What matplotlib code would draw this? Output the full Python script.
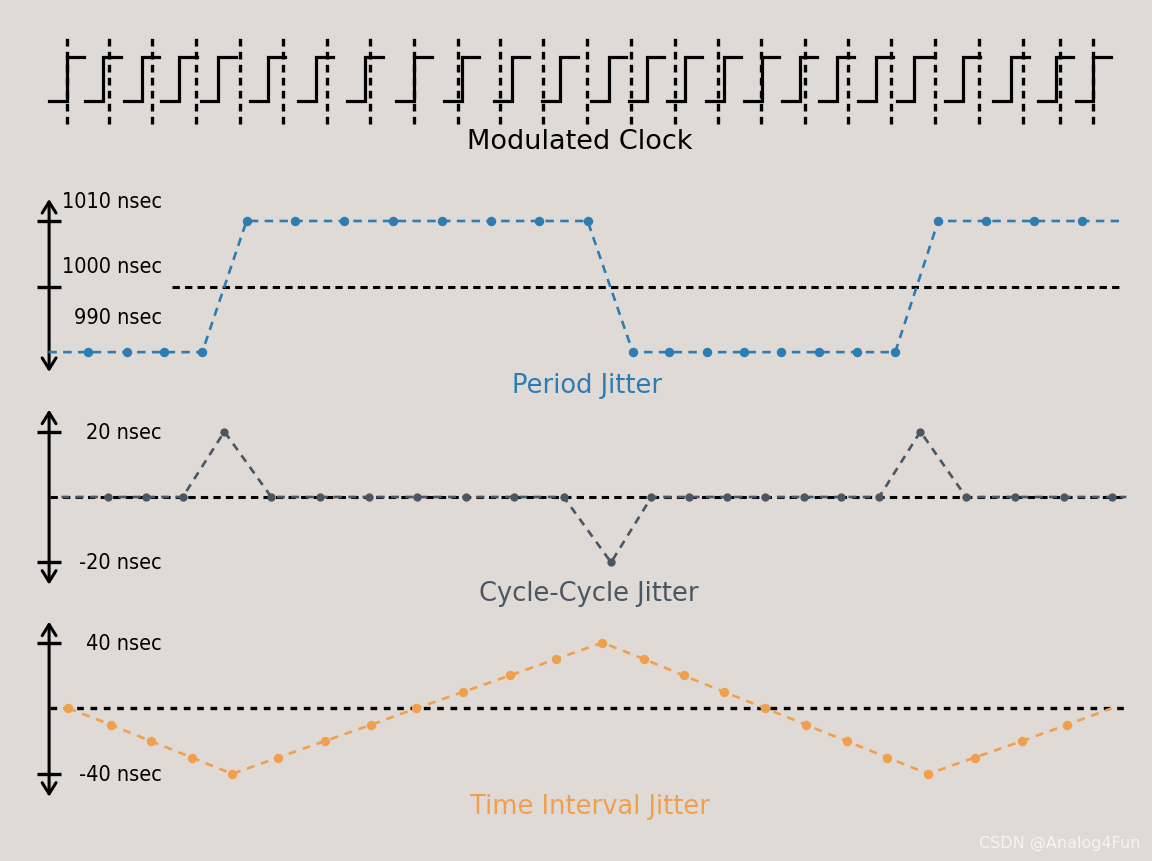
"""Clock jitter diagram: modulated clock, period / cycle-cycle / time interval jitter."""

import matplotlib

matplotlib.use("Agg")
import matplotlib.pyplot as plt
from matplotlib import font_manager

# x axis is shared by every row, in units of the ideal clock period
IDEAL_EDGES = [0, 0.98, 1.97, 2.97, 3.99, 4.99, 5.98, 6.98, 7.99, 9.0, 9.98, 10.97,
               11.97, 12.99, 13.99, 14.98, 15.98, 17.0, 17.99, 18.98, 19.99, 21.0,
               22.0, 22.87, 23.62]
CLOCK_EDGES = [0.0, 0.84, 1.73, 2.59, 3.49, 4.63, 5.74, 6.87, 8.0, 9.09, 10.24, 11.36,
               12.48, 13.35, 14.23, 15.12, 16.0, 16.88, 17.73, 18.63, 19.51, 20.62,
               21.74, 22.76, 23.63]

# period jitter (nsec)
PERIOD_T = [0.5, 1.38, 2.25, 3.12, 4.14, 5.26, 6.38, 7.52, 8.63, 9.76, 10.88, 11.99,
            13.03, 13.87, 14.73, 15.59, 16.45, 17.32, 18.19, 19.07, 20.06, 21.16, 22.27, 23.37]
PERIOD_NS = [990, 990, 990, 990, 1010, 1010, 1010, 1010, 1010, 1010, 1010, 1010,
             990, 990, 990, 990, 990, 990, 990, 990, 1010, 1010, 1010, 1010]
PERIOD_ENDS_T = [-0.42, 24.22]
PERIOD_ENDS_NS = [990, 1010]

# cycle-cycle jitter (nsec)
C2C_T = [0.95, 1.83, 2.67, 3.63, 4.71, 5.82, 6.95, 8.06, 9.19, 10.3, 11.44, 12.53,
         13.46, 14.32, 15.19, 16.07, 16.96, 17.82, 18.7, 19.65, 20.7, 21.83, 22.95, 24.07]
C2C_NS = [0, 0, 0, 20, 0, 0, 0, 0, 0, 0, 0, -20,
          0, 0, 0, 0, 0, 0, 0, 20, 0, 0, 0, 0]
C2C_ENDS_T = [-0.12, 24.39]
C2C_ENDS_NS = [0, 0]

# time interval jitter (nsec)
TIE_T = [0.04, 1.01, 1.94, 2.88, 3.81, 4.87, 5.94, 7.01, 8.05, 9.13, 10.2, 11.26,
         12.33, 13.29, 14.2, 15.13, 16.08, 17.01, 17.95, 18.89, 19.83, 20.9, 21.98, 23.03]
TIE_NS = [0, -10, -20, -30, -40, -30, -20, -10, 0, 10, 20, 30,
          40, 30, 20, 10, 0, -10, -20, -30, -40, -30, -20, -10]
TIE_ENDS_T = [24.05]
TIE_ENDS_NS = [0]

PERIOD_TICKS = [1010, 1000]
PERIOD_LABELS = ["1010 nsec", "1000 nsec", "990 nsec"]
PERIOD_LABEL_Y = [1013.0, 1003.1, 995.4]
C2C_TICKS = [20, -20]
C2C_LABELS = ["20 nsec", "-20 nsec"]
TIE_TICKS = [40, -40]
TIE_LABELS = ["40 nsec", "-40 nsec"]

BG = "#e0dad7"
BLUE = "#2e7db2"
SLATE = "#4a5661"
ORANGE = "#f0a04c"

W, H = 1152, 862
XLIM = (-1.535, 24.98)
AXIS_X = -0.405
TICK_X = (-0.69, -0.13)
LABEL_X = 2.19


def pick_label_font():
    # the reference uses a narrow grotesque; take a condensed face if one is installed
    entries = font_manager.fontManager.ttflist
    names = {f.name for f in entries}
    if "Liberation Sans Narrow" in names:
        return dict(family="Liberation Sans Narrow", fontsize=16.5)
    for pref in ["DejaVu Sans", "Roboto", "Open Sans", "Noto Sans"]:
        for f in entries:
            if f.name == pref and "condensed" in str(f.stretch) and f.weight in (400, "normal"):
                return dict(family=pref, fontstretch=f.stretch, fontsize=15.5)
    return dict(family="Liberation Sans", fontsize=15)


LABEL_FONT = pick_label_font()


def make_axes(fig, top_px, bottom_px, ylim):
    ax = fig.add_axes([0, 1 - bottom_px / H, 1, (bottom_px - top_px) / H])
    ax.set_xlim(*XLIM)
    ax.set_ylim(*ylim)
    ax.axis("off")
    ax.patch.set_alpha(0)
    return ax


def draw_axis(ax, y_lo, y_hi, ticks):
    ax.annotate("", xy=(AXIS_X, y_hi), xytext=(AXIS_X, y_lo),
                arrowprops=dict(arrowstyle="<->,head_length=0.4,head_width=0.25",
                                lw=2.2, color="black", shrinkA=0, shrinkB=0,
                                mutation_scale=20))
    ax.hlines(ticks, TICK_X[0], TICK_X[1], color="black", lw=2.4)


def draw_series(ax, t, v, ends_t, ends_v, color, ms, dashes):
    pts = sorted(zip(list(t) + list(ends_t), list(v) + list(ends_v)))
    ax.plot([p[0] for p in pts], [p[1] for p in pts], color=color, lw=1.9,
            dashes=dashes, zorder=3)
    ax.plot(t, v, "o", color=color, ms=ms, mec="none", zorder=4)


def add_labels(ax, labels, ys):
    for lab, y in zip(labels, ys):
        ax.text(LABEL_X, y, lab, ha="right", va="center", color="black", **LABEL_FONT)


def main():
    fig = plt.figure(figsize=(W / 100, H / 100), dpi=100, facecolor=BG)

    # modulated clock
    ax = make_axes(fig, 30, 130, (-0.652, 1.652))
    ax.vlines(IDEAL_EDGES, -0.54, 1.46, color="black", lw=2.4, linestyles=(0, (2.3, 1.6)))
    for e in CLOCK_EDGES:
        ax.plot([e - 0.41, e, e, e + 0.40], [0, 0, 1, 1], color="black", lw=2.3,
                solid_joinstyle="miter")

    # period jitter
    ax = make_axes(fig, 190, 380, (985.9, 1014.88))
    draw_axis(ax, 986.98, 1013.35, PERIOD_TICKS)
    ax.hlines(1000, 2.42, 24.25, color="black", lw=2.2, linestyles=(0, (2.4, 1.7)), zorder=2)
    draw_series(ax, PERIOD_T, PERIOD_NS, PERIOD_ENDS_T, PERIOD_ENDS_NS, BLUE, 6.8, (3.2, 2.4))
    add_labels(ax, PERIOD_LABELS, PERIOD_LABEL_Y)

    # cycle-cycle jitter
    ax = make_axes(fig, 400, 600, (-31.19, 29.97))
    draw_axis(ax, -26.8, 26.7, C2C_TICKS)
    ax.hlines(0, -0.38, 24.39, color="black", lw=2.2, linestyles=(0, (2.4, 1.7)), zorder=2)
    draw_series(ax, C2C_T, C2C_NS, C2C_ENDS_T, C2C_ENDS_NS, SLATE, 6, (3.0, 2.4))
    add_labels(ax, C2C_LABELS, C2C_TICKS)

    # time interval jitter
    ax = make_axes(fig, 612, 812, (-62.6, 59.3))
    draw_axis(ax, -53.9, 52.8, TIE_TICKS)
    ax.hlines(0, -0.38, 24.34, color="black", lw=2.4, linestyles=(0, (2.0, 2.0)), zorder=2)
    draw_series(ax, TIE_T, TIE_NS, TIE_ENDS_T, TIE_ENDS_NS, ORANGE, 6.8, (3.0, 2.6))
    add_labels(ax, TIE_LABELS, TIE_TICKS)

    fig.text(0.503, 1 - 142 / H, "Modulated Clock", ha="center", va="center",
             fontsize=19.5, color="black")
    fig.text(0.510, 1 - 386 / H, "Period Jitter", ha="center", va="center",
             fontsize=18.5, color=BLUE)
    fig.text(0.511, 1 - 594 / H, "Cycle-Cycle Jitter", ha="center", va="center",
             fontsize=18.5, color=SLATE)
    fig.text(0.512, 1 - 807 / H, "Time Interval Jitter", ha="center", va="center",
             fontsize=18.5, color=ORANGE)
    fig.text(0.99, 1 - 843 / H, "CSDN @Analog4Fun", ha="right", va="center",
             fontsize=11.5, color="#f6f4f3")

    fig.savefig("out.png", dpi=100, facecolor=BG)
    plt.close(fig)


if __name__ == "__main__":
    main()
